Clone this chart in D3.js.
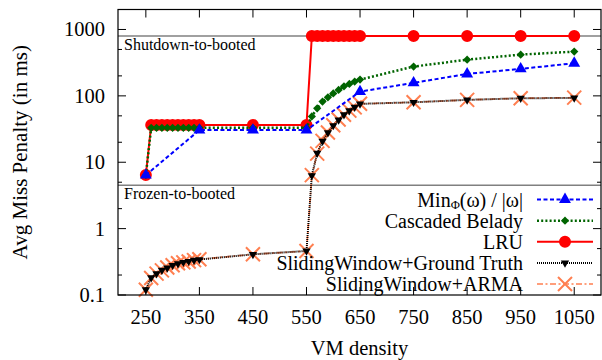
<!DOCTYPE html>
<html>
<head>
<meta charset="utf-8">
<script src="https://cdn.jsdelivr.net/npm/d3@7"></script>
<style>
  body { margin: 0; background: #fff; }
  svg { display: block; font-family: "Liberation Serif", "Times New Roman", serif; }
</style>
</head>
<body>
<div id="chart"></div>
<script>
// x positions (VM density)
var xDense = [250,260,270,280,290,300,310,320,330,340,350,450,550,560,570,580,590,600,610,620,630,640,650,750,850,950,1050];
var xCoarse = [250,350,450,550,650,750,850,950,1050];

// avg miss penalty (ms)
var minPhi = [6.4, 30.5, 30.5, 30.5, 116, 157, 214, 255, 310];
var cascadedBelady = [6.4, 33,33,33,33,33,33,33,33,33,33, 33, 33, 49, 65, 82, 95, 109, 123, 139, 151, 164, 176, 276, 351, 418, 464];
var lru = [6.4, 36.4,36.4,36.4,36.4,36.4,36.4,36.4,36.4,36.4,36.4, 36.4, 36.4, 800,800,800,800,800,800,800,800,800,800, 800,800,800,800];
var swGroundTruth = [0.12, 0.183, 0.21, 0.236, 0.256, 0.28, 0.297, 0.311, 0.322, 0.334, 0.342, 0.41, 0.46, 6.3, 13.7, 20.8, 27.8, 35.7, 43.5, 52, 60, 67.4, 75.8, 80, 87, 92, 93];
var swArma = [0.12, 0.18, 0.21, 0.235, 0.26, 0.28, 0.30, 0.31, 0.32, 0.335, 0.345, 0.41, 0.46, 6.4, 13.5, 21, 28, 36, 44, 52, 60, 67, 76, 80, 87, 92, 94];

// reference lines
var refLines = [{v: 800, label: "Shutdown-to-booted"}, {v: 4.5, label: "Frozen-to-booted"}];

var xTicks = [250,350,450,550,650,750,850,950,1050];
var yMajor = [0.1, 1, 10, 100, 1000];
var yMinor = [0.2, 0.5, 2, 5, 20, 50, 200, 500];

var W = 602, H = 360;
var plot = {left: 118, right: 601, top: 9.5, bottom: 295};

var svg = d3.select("#chart").append("svg")
    .attr("width", W)
    .attr("height", H);

var x = d3.scaleLinear().domain([198, 1100]).range([plot.left, plot.right]);
var y = d3.scaleLog().domain([0.1, 2000]).range([plot.bottom, plot.top]);

var crossType = {
  draw: function(ctx, size) {
    var r = Math.sqrt(size) / 2;
    ctx.moveTo(-r, -r); ctx.lineTo(r, r);
    ctx.moveTo(-r, r); ctx.lineTo(r, -r);
  }
};

// series, listed in legend order
var series = [
  {name: "Min", xs: xCoarse, ys: minPhi, color: "#0000ff", dash: "4,2.5", width: 2,
   marker: {type: d3.symbolTriangle, size: 62, rotate: 0, fill: true}},
  {name: "Cascaded Belady", xs: xDense, ys: cascadedBelady, color: "#006400", dash: "2,2.2", width: 2.5,
   marker: {type: d3.symbolSquare, size: 34, rotate: 45, fill: true}},
  {name: "LRU", xs: xDense, ys: lru, color: "#ff0000", dash: null, width: 2,
   marker: {type: d3.symbolCircle, size: 113, rotate: 0, fill: true}},
  {name: "SlidingWindow+Ground Truth", xs: xDense, ys: swGroundTruth, color: "#000000", dash: "1,1", width: 2,
   marker: {type: d3.symbolTriangle, size: 30, rotate: 180, fill: true}},
  {name: "SlidingWindow+ARMA", xs: xDense, ys: swArma, color: "#ff7f50", dash: "6,2.5,2,2.5", width: 1.6,
   marker: {type: crossType, size: 196, rotate: 0, fill: false}}
];

// reference lines
var refG = svg.append("g");
refG.selectAll("line").data(refLines).join("line")
    .attr("x1", plot.left).attr("x2", plot.right)
    .attr("y1", function(d) { return y(d.v); })
    .attr("y2", function(d) { return y(d.v); })
    .attr("stroke", "#808080")
    .attr("stroke-width", 1.5);
refG.selectAll("text").data(refLines).join("text")
    .attr("x", plot.left + 6)
    .attr("y", function(d) { return y(d.v) + 14; })
    .attr("font-size", "16px")
    .attr("fill", "#000")
    .text(function(d) { return d.label; });

// ticks (inward, mirrored)
function tickLines(g, vals, scale, orient, len) {
  vals.forEach(function(v) {
    var p = scale(v);
    if (orient === "x") {
      g.append("line").attr("x1", p).attr("x2", p).attr("y1", plot.bottom).attr("y2", plot.bottom - len);
      g.append("line").attr("x1", p).attr("x2", p).attr("y1", plot.top).attr("y2", plot.top + len);
    } else {
      g.append("line").attr("y1", p).attr("y2", p).attr("x1", plot.left).attr("x2", plot.left + len);
      g.append("line").attr("y1", p).attr("y2", p).attr("x1", plot.right).attr("x2", plot.right - len);
    }
  });
}
var tickG = svg.append("g").attr("stroke", "#000").attr("stroke-width", 1);
tickLines(tickG, xTicks, x, "x", 8);
tickLines(tickG, yMajor, y, "y", 8);
tickLines(tickG, yMinor, y, "y", 4);

// tick labels
svg.append("g").selectAll("text").data(xTicks).join("text")
    .attr("x", function(d) { return x(d); })
    .attr("y", 324)
    .attr("text-anchor", "middle")
    .attr("font-size", "20.5px")
    .text(function(d) { return d; });

svg.append("g").selectAll("text").data(yMajor).join("text")
    .attr("x", 105)
    .attr("y", function(d) { return y(d) + 7; })
    .attr("text-anchor", "end")
    .attr("font-size", "20.5px")
    .text(function(d) { return d; });

// axis titles
svg.append("text")
    .attr("x", (plot.left + plot.right) / 2)
    .attr("y", 355)
    .attr("text-anchor", "middle")
    .attr("font-size", "20.5px")
    .text("VM density");

svg.append("text")
    .attr("transform", "translate(27," + ((plot.top + plot.bottom) / 2) + ") rotate(-90)")
    .attr("text-anchor", "middle")
    .attr("font-size", "21px")
    .text("Avg Miss Penalty (in ms)");

// plotting, reverse order so the first series sits on top
var lineGen = d3.line();
function markerPath(m) {
  return d3.symbol().type(m.type).size(m.size)();
}

series.slice().reverse().forEach(function(s) {
  var pts = s.xs.map(function(xv, i) { return [x(xv), y(s.ys[i])]; });
  var g = svg.append("g");
  g.append("path")
      .attr("d", lineGen(pts))
      .attr("fill", "none")
      .attr("stroke", s.color)
      .attr("stroke-width", s.width)
      .attr("stroke-dasharray", s.dash);
  g.selectAll("path.m").data(pts).join("path")
      .attr("class", "m")
      .attr("transform", function(p) { return "translate(" + p[0] + "," + p[1] + ") rotate(" + s.marker.rotate + ")"; })
      .attr("d", markerPath(s.marker))
      .attr("fill", s.marker.fill ? s.color : "none")
      .attr("stroke", s.marker.fill ? "none" : s.color)
      .attr("stroke-width", 2);
});

// legend
var legend = svg.append("g");
var rowY = d3.scaleLinear().domain([0, 4]).range([199.5, 284]);
series.forEach(function(s, i) {
  var ry = rowY(i);
  var t = legend.append("text")
      .attr("x", 523)
      .attr("y", ry + 7)
      .attr("text-anchor", "end")
      .attr("font-size", "20px");
  if (s.name === "Min") {
    t.append("tspan").text("Min");
    t.append("tspan").attr("font-size", "12.5px").attr("dy", 2).text("\u03A6");
    t.append("tspan").attr("dy", -2).text("(\u03C9) / |\u03C9|");
  } else {
    t.text(s.name);
  }
  legend.append("line")
      .attr("x1", 537).attr("x2", 593)
      .attr("y1", ry).attr("y2", ry)
      .attr("stroke", s.color)
      .attr("stroke-width", s.width)
      .attr("stroke-dasharray", s.dash);
  legend.append("path")
      .attr("transform", "translate(565," + ry + ") rotate(" + s.marker.rotate + ")")
      .attr("d", markerPath(s.marker))
      .attr("fill", s.marker.fill ? s.color : "none")
      .attr("stroke", s.marker.fill ? "none" : s.color)
      .attr("stroke-width", 2);
});

// border
svg.append("rect")
    .attr("x", plot.left).attr("y", plot.top)
    .attr("width", plot.right - plot.left)
    .attr("height", plot.bottom - plot.top)
    .attr("fill", "none")
    .attr("stroke", "#000")
    .attr("stroke-width", 1.2);
</script>
</body>
</html>
